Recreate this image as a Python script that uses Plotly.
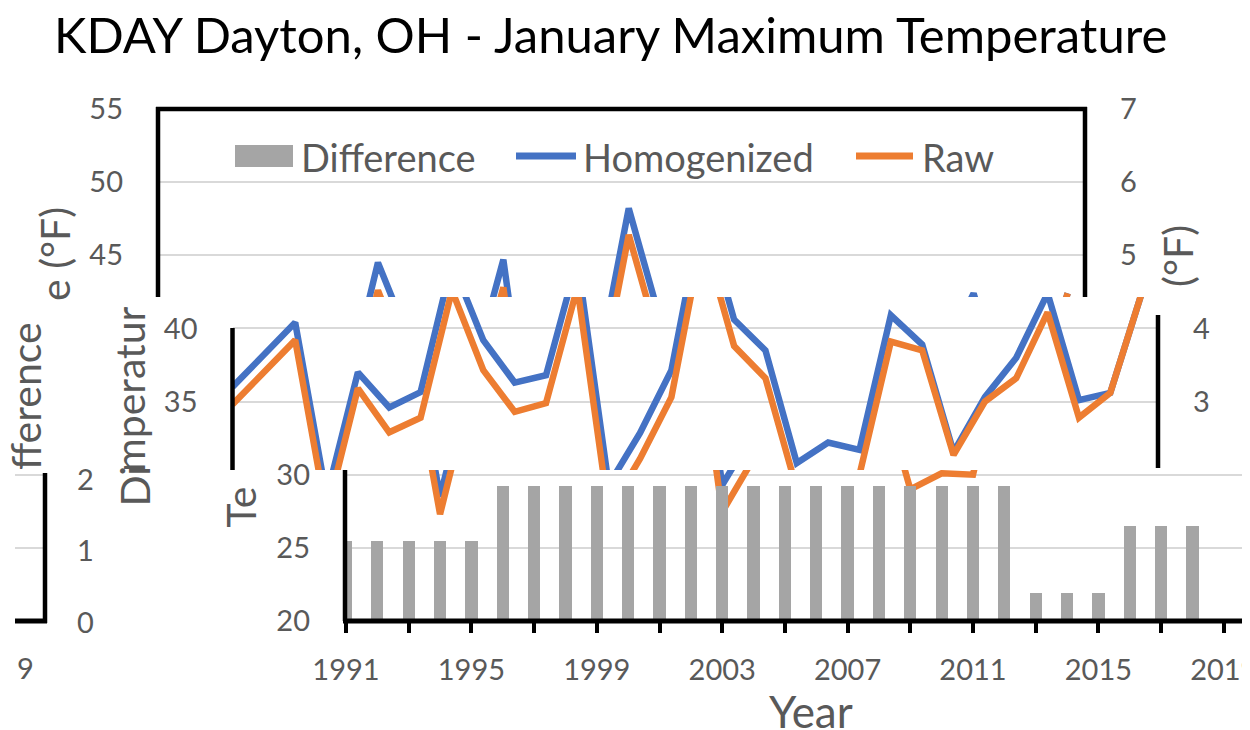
import plotly.graph_objects as go

# ---------------- data ----------------
years = list(range(1991, 2021))
homogenized = [36.0, 38.2, 40.4, 28.5, 37.0, 34.6, 35.65, 44.5, 39.2, 36.3,
               36.8, 44.7, 29.3, 32.85, 37.15, 48.2, 40.6, 38.5, 30.8, 32.2,
               31.7, 40.9, 38.9, 31.55, 35.3, 38.0, 42.4, 35.1, 35.6, 42.4]
raw = [34.8, 37.0, 39.2, 27.3, 35.9, 32.9, 33.9, 42.6, 37.15, 34.3,
       34.9, 42.8, 27.45, 31.1, 35.3, 46.4, 38.8, 36.6, 29.0, 30.1,
       30.0, 39.1, 38.5, 31.35, 35.0, 36.6, 41.1, 33.9, 35.6, 42.4]
diff_years = list(range(1991, 2019))
difference = [1.1, 1.1, 1.1, 1.1, 1.1, 1.85, 1.85, 1.85, 1.85, 1.85,
              1.85, 1.85, 1.85, 1.85, 1.85, 1.85, 1.85, 1.85, 1.85, 1.85,
              1.85, 1.85, 0.38, 0.38, 0.38, 1.3, 1.3, 1.3]
year_ticks = [1991, 1995, 1999, 2003, 2007, 2011, 2015, 2019]
year_minor = [1993, 1997, 2001, 2005, 2009, 2013, 2017]

title = "KDAY Dayton, OH - January Maximum Temperature"
FONT = "Lato"
GRAY_TXT = "#595959"
BLUE, ORANGE, BARGRAY, GRID = "#4472C4", "#ED7D31", "#A5A5A5", "#D9D9D9"

# ---------------- geometry helpers ----------------
W, H = 1250, 730
OFF = 8                          # page body margin of the html page
PPY = 31.35                      # pixels per year
T_TOP, T_BOT = 109, 621          # screen rows of 55 F and 20 F


def px_x(px):
    return (px - OFF) / W


def px_y(py):
    return 1 - (py - OFF) / H


def temp_at(py):
    return 55 - (py - T_TOP) * 35 / (T_BOT - T_TOP)


def diff_at(py):
    return 7 - (py - T_TOP) * 7 / (T_BOT - T_TOP)


# three horizontally shifted slices of the chart (screen pixels)
bands = [
    dict(top=109, bot=297, left=158, right=1085, x1991=158.5, tv=[45, 50, 55], dv=[5, 6, 7]),
    dict(top=297, bot=470, left=232.5, right=1158, x1991=232.5, tv=[35, 40], dv=[3, 4]),
    dict(top=470, bot=621, left=345, right=1258, x1991=346, tv=[20, 25, 30], dv=[]),
]

fig = go.Figure()
layout = dict(template="none", width=W, height=H, autosize=False,
              margin=dict(l=0, r=0, t=0, b=0, pad=0),
              paper_bgcolor="white", plot_bgcolor="rgba(0,0,0,0)",
              showlegend=False, hovermode=False, bargap=0)

tickfont = dict(family=FONT, size=29, color=GRAY_TXT)

for i, b in enumerate(bands):
    n = i + 1
    xs = "" if n == 1 else str(n)
    ys_t = "" if n == 1 else str(n)
    ys_d = str(n + 3)
    xr = [1991 + (b["left"] - b["x1991"]) / PPY, 1991 + (b["right"] - b["x1991"]) / PPY]
    xdom = [px_x(b["left"]), min(1.0, px_x(b["right"]))]
    ydom = [px_y(b["bot"]), px_y(b["top"])]
    xa = dict(domain=xdom, range=xr, anchor="y" + ys_t, showgrid=False, zeroline=False,
              fixedrange=True, automargin=False)
    if n == 3:
        xa.update(tickvals=year_ticks, ticktext=[str(v) for v in year_ticks],
                  ticks="outside", ticklen=11, tickwidth=4, tickcolor="black",
                  tickfont=tickfont, ticklabelstandoff=12, showline=False,
                  minor=dict(tickvals=year_minor, ticks="outside", ticklen=11,
                             tickwidth=4, tickcolor="black", showgrid=False))
    else:
        xa.update(visible=False)
    layout["xaxis" + xs] = xa
    layout["yaxis" + ys_t] = dict(domain=ydom, range=[temp_at(b["bot"]), temp_at(b["top"])],
                                  anchor="x" + xs, tickvals=b["tv"], ticks="",
                                  tickfont=tickfont, ticklabelstandoff=34,
                                  showgrid=True, gridcolor=GRID, gridwidth=2,
                                  zeroline=False, showline=False, fixedrange=True,
                                  automargin=False)
    layout["yaxis" + ys_d] = dict(range=[diff_at(b["bot"]), diff_at(b["top"])],
                                  anchor="x" + xs, overlaying="y" + ys_t, side="right",
                                  tickvals=b["dv"], ticks="", tickfont=tickfont,
                                  ticklabelstandoff=34, showticklabels=bool(b["dv"]),
                                  showgrid=False, zeroline=False, showline=False,
                                  fixedrange=True, automargin=False)
    fig.add_trace(go.Bar(x=diff_years, y=difference, width=0.39,
                         marker=dict(color=BARGRAY, line=dict(width=0)),
                         xaxis="x" + xs, yaxis="y" + ys_d))
    fig.add_trace(go.Scatter(x=years, y=homogenized, mode="lines",
                             line=dict(color=BLUE, width=6.5),
                             xaxis="x" + xs, yaxis="y" + ys_t))
    fig.add_trace(go.Scatter(x=years, y=raw, mode="lines",
                             line=dict(color=ORANGE, width=6.5),
                             xaxis="x" + xs, yaxis="y" + ys_t))

fig.update_layout(**layout)

# ---------------- frame pieces ----------------
shapes = []


def seg(x0, y0, x1, y1, color="black", w=4.5):
    shapes.append(dict(type="line", xref="paper", yref="paper",
                       x0=px_x(x0), y0=px_y(y0), x1=px_x(x1), y1=px_y(y1),
                       line=dict(color=color, width=w), layer="above"))


# band 1 frame
seg(158, 107, 158, 297)
seg(156, 109, 1087, 109)
seg(1085, 107, 1085, 297)
# band 2 frame
seg(232.5, 328, 232.5, 470)
seg(1158, 315, 1158, 468)
# band 3 axes
seg(345, 470, 345, 621)
seg(343, 621, 1258, 621, w=5)
# band 3 wrapped right-hand piece
seg(15, 475, 45, 475, color=GRID, w=2)
seg(15, 548, 45, 548, color=GRID, w=2)
seg(45, 473, 45, 623)
seg(15, 621, 47, 621, w=5)

# legend
shapes.append(dict(type="rect", xref="paper", yref="paper",
                   x0=px_x(235), x1=px_x(293), y0=px_y(167), y1=px_y(145),
                   fillcolor=BARGRAY, line=dict(width=0)))
seg(516, 156, 576, 156, color=BLUE, w=7)
seg(856, 156, 913, 156, color=ORANGE, w=7)

annotations = []


def txt(s, x, y, size, xanchor="center", yanchor="middle", angle=0, color=GRAY_TXT):
    annotations.append(dict(text=s, x=px_x(x), y=px_y(y), xref="paper", yref="paper",
                            xanchor=xanchor, yanchor=yanchor, textangle=angle,
                            showarrow=False, font=dict(family=FONT, size=size, color=color)))


txt(title, 610, 34, 49, color="black")
txt("Difference", 299, 157, 38, xanchor="left")
txt("Homogenized", 581, 157, 38, xanchor="left")
txt("Raw", 920, 157, 38, xanchor="left")
txt("Year", 811, 711, 44)

# rotated axis-title fragments of each slice
txt("e (°F)", 54, 205, 41, yanchor="top", angle=-90)
txt("(°F)", 1177, 223, 41, yanchor="top", angle=-90)
txt("mperatur", 129, 474, 41, yanchor="bottom", angle=-90)
txt("fference", 25, 472, 41, yanchor="bottom", angle=-90)
txt("Te", 240, 529, 41, yanchor="bottom", angle=-90)
txt("Di", 134, 509, 41, yanchor="bottom", angle=-90)

# wrapped right-axis labels and year label of bottom slice
txt("2", 85, 478, 29)
txt("1", 85, 549, 29)
txt("0", 85, 621, 29)
txt("9", 25, 667, 29)

fig.update_layout(shapes=shapes, annotations=annotations)
fig.write_html("out.html")
